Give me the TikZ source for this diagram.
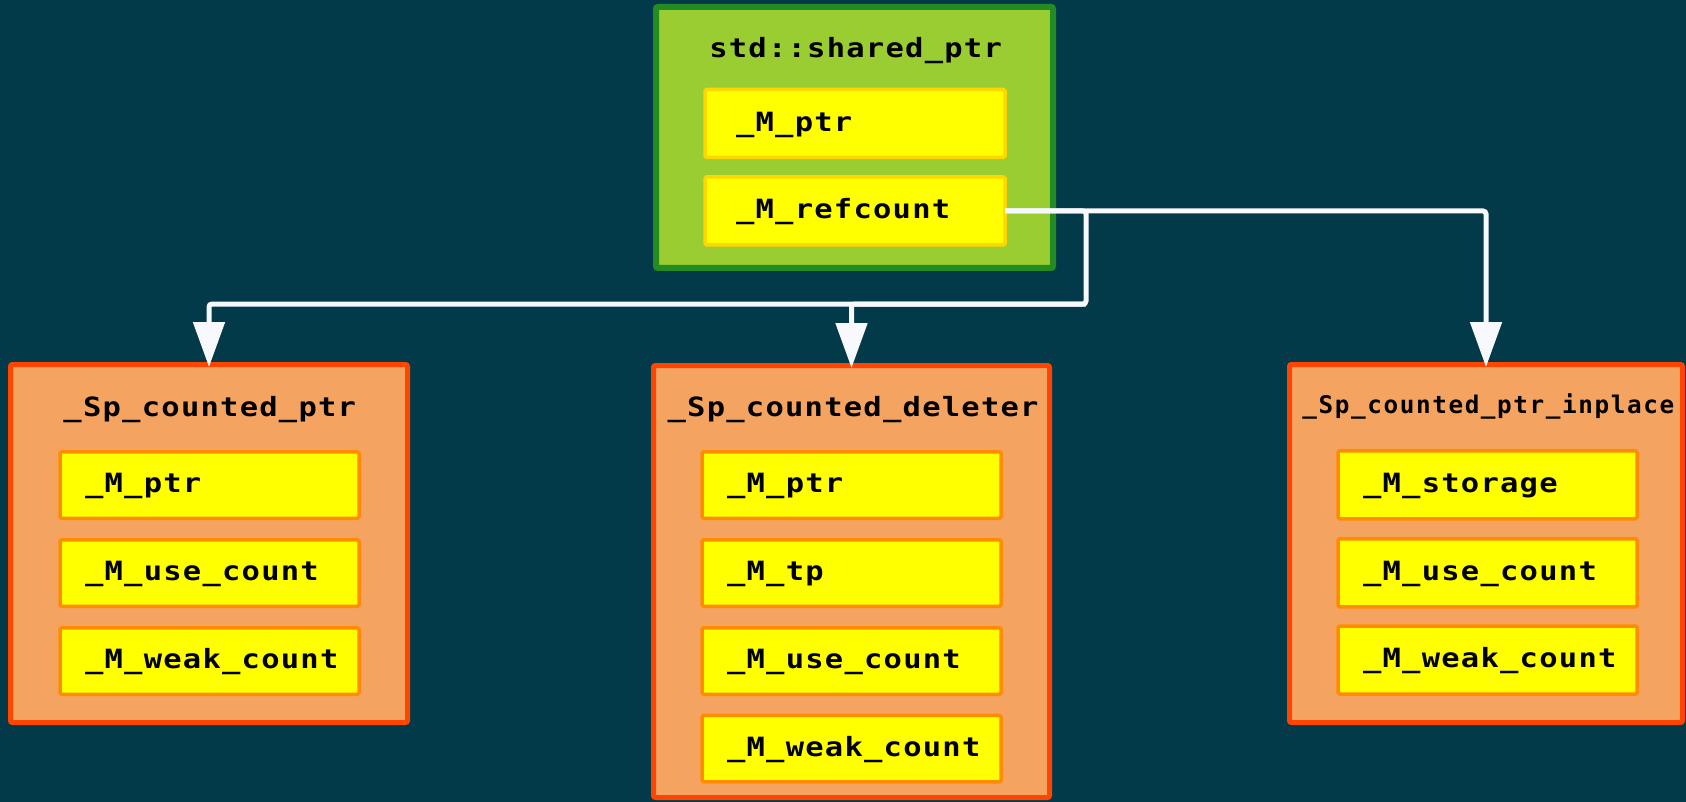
\documentclass[tikz,border=0pt]{standalone}
\usepackage{fontspec}
\newfontfamily\codefont{DejaVu Sans Mono Bold}[FakeStretch=1.15, LetterSpace=4.7]
\newfontfamily\narrowcode{DejaVu Sans Mono Bold}[LetterSpace=6.6]
\usetikzlibrary{arrows.meta}
\definecolor{bg}{RGB}{2,58,74}
\definecolor{ygreen}{RGB}{154,205,50}
\definecolor{fgreen}{RGB}{34,139,34}
\definecolor{sandy}{RGB}{244,164,96}
\definecolor{ored}{RGB}{255,69,0}
\definecolor{dorange}{RGB}{255,140,0}
\definecolor{goldline}{RGB}{255,215,0}
\definecolor{ghost}{RGB}{248,248,255}
\definecolor{fieldyellow}{RGB}{255,255,0}
\begin{document}
\begin{tikzpicture}[x=1pt,y=-1pt,
  bigtext/.style={font=\codefont\fontsize{26.5pt}{29pt}\selectfont, text=black},
  smalltext/.style={font=\narrowcode\fontsize{24.3pt}{27pt}\selectfont, text=black},
  ownerbox/.style={draw=fgreen, fill=ygreen, line width=6pt, rounded corners=2pt,
    anchor=north west, inner sep=0pt, outer sep=0pt},
  blockbox/.style={draw=ored, fill=sandy, line width=5pt, rounded corners=2pt,
    anchor=north west, inner sep=0pt, outer sep=0pt},
  title/.style={anchor=base, inner sep=0pt, outer sep=0pt},
  field/.style={fill=fieldyellow, line width=3.5pt, rounded corners=1.5pt,
    anchor=north west, outer sep=0pt, inner ysep=0pt, inner xsep=25pt,
    text width=249pt, minimum height=66.5pt, text height=19.3pt, text depth=4pt,
    align=left, bigtext},
  gfield/.style={field, draw=goldline, inner xsep=31pt, text width=238pt, minimum height=68pt},
  ofield/.style={field, draw=dorange},
  wire/.style={draw=ghost, line width=5pt, rounded corners=3pt},
  tip/.style={-{Triangle[length=45pt, width=31pt]}, shorten >=-2.5pt}
]
% canvas
\fill[bg] (0,0) rectangle (1686,802);
\useasboundingbox (0,0) rectangle (1686,802);

% std::shared_ptr
\node[ownerbox, minimum width=397pt, minimum height=261pt] (owner) at (656,7) {};
\node[title, bigtext] (ownertitle) at (855.6,58) {std::shared\_ptr};
\node[gfield] (optr) at (705,89.5) {\_M\_ptr};
\node[gfield] (refc) at (705,177) {\_M\_refcount};

% _Sp_counted_ptr
\node[blockbox, minimum width=397pt, minimum height=358pt] (lft) at (10.5,364.5) {};
\node[title, bigtext] (lfttitle) at (209.8,416.5) {\_Sp\_counted\_ptr};
\node[ofield] (lptr) at (60,451.75) {\_M\_ptr};
\node[ofield] (luse) at (60,539.75) {\_M\_use\_count};
\node[ofield] (lweak) at (60,627.75) {\_M\_weak\_count};

% _Sp_counted_deleter
\node[blockbox, minimum width=396pt, minimum height=432pt] (mid) at (653.5,365.5) {};
\node[title, bigtext] (midtitle) at (853.1,416.5) {\_Sp\_counted\_deleter};
\node[ofield] (mptr) at (702,451.75) {\_M\_ptr};
\node[ofield] (mtp) at (702,539.75) {\_M\_tp};
\node[ofield] (muse) at (702,627.75) {\_M\_use\_count};
\node[ofield] (mweak) at (702,715.25) {\_M\_weak\_count};

% _Sp_counted_ptr_inplace
\node[blockbox, minimum width=393pt, minimum height=358pt] (rgt) at (1289.5,364.5) {};
\node[title, smalltext] (rgttitle) at (1488.3,413) {\_Sp\_counted\_ptr\_inplace};
\node[ofield, minimum height=68pt] (rstore) at (1338,450.75) {\_M\_storage};
\node[ofield, minimum height=68pt] (ruse) at (1338,538.75) {\_M\_use\_count};
\node[ofield, minimum height=68pt] (rweak) at (1338,626) {\_M\_weak\_count};

% connectors from the reference count
\coordinate (split) at (1086,211);
\coordinate (bus) at (1086,304);
\draw[wire, tip] (refc.east) -- (split) -- (bus) -| (lft.north);
\draw[wire, tip] (bus) -| (mid.north);
\draw[wire, tip] (refc.east) -| (rgt.north);
\end{tikzpicture}
\end{document}
